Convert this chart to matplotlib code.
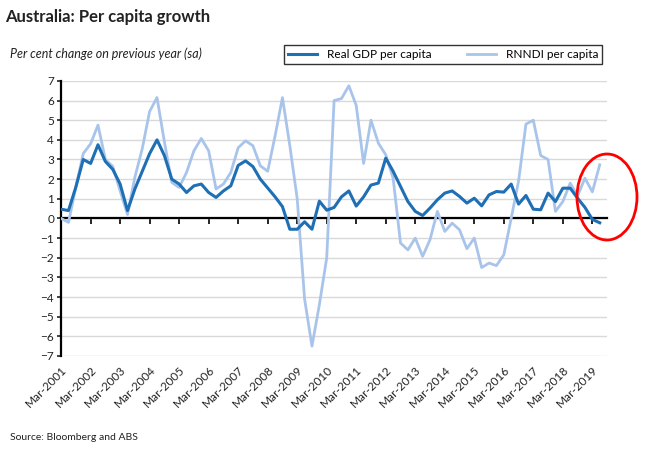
import matplotlib.pyplot as plt
from matplotlib.patches import Ellipse

# quarterly, Mar-2001 .. Jun-2019
gdp_pc = [0.47, 0.4, 1.6, 3.0, 2.8, 3.75, 2.9, 2.5, 1.75, 0.4,
          1.5, 2.4, 3.3, 4.0, 3.2, 2.0, 1.75, 1.32, 1.66, 1.75,
          1.32, 1.07, 1.4, 1.66, 2.7, 2.93, 2.64, 2.0, 1.55, 1.1,
          0.6, -0.55, -0.55, -0.17, -0.55, 0.88, 0.42, 0.56, 1.1, 1.4,
          0.63, 1.1, 1.7, 1.8, 3.07, 2.4, 1.63, 0.86, 0.36, 0.15,
          0.53, 0.95, 1.29, 1.4, 1.12, 0.78, 1.03, 0.64, 1.2, 1.37,
          1.34, 1.75, 0.73, 1.17, 0.47, 0.44, 1.29, 0.86, 1.54, 1.54,
          1.03, 0.56, -0.05, -0.22]
rnndi_pc = [0.0, -0.2, 1.6, 3.3, 3.8, 4.75, 3.0, 2.65, 1.4, 0.2,
            2.1, 3.55, 5.45, 6.15, 3.9, 1.83, 1.58, 2.34, 3.44, 4.07,
            3.44, 1.5, 1.75, 2.34, 3.6, 3.95, 3.7, 2.68, 2.4, 4.2,
            6.15, 3.7, 1.0, -4.1, -6.5, -4.4, -2.0, 6.0, 6.1, 6.75,
            5.75, 2.8, 5.0, 3.83, 3.24, 2.05, -1.25, -1.6, -1.0, -1.93,
            -1.08, 0.36, -0.66, -0.24, -0.58, -1.54, -1.0, -2.5, -2.27, -2.4,
            -1.85, 0.0, 1.9, 4.8, 5.0, 3.2, 3.0, 0.36, 0.86, 1.8,
            1.15, 2.05, 1.35, 2.73]
years = list(range(2001, 2020))
tick_labels = ['Mar-%d' % y for y in years]

plt.rcParams['font.family'] = ['Lato', 'DejaVu Sans']

fig = plt.figure(figsize=(6.5, 4.55), dpi=100)
ax = fig.add_axes([0.094, 0.2176, 0.84, 0.6046])

x = list(range(len(gdp_pc)))
ax.plot(x, rnndi_pc, color='#a9c4eb', lw=2.0, label='RNNDI per capita', zorder=3)
ax.plot(x, gdp_pc, color='#1f6fb5', lw=2.2, label='Real GDP per capita', zorder=4)

ax.set_xlim(0, 74)
ax.set_ylim(-7, 7)
ax.set_yticks(range(-7, 8))
ax.tick_params(axis='y', labelsize=8.5, length=3, width=1.2, pad=2, colors='#222222')
ax.grid(axis='y', color='#d9d9d9', lw=1)
ax.set_axisbelow(True)

for s in ['top', 'right']:
    ax.spines[s].set_visible(False)
ax.spines['left'].set_linewidth(1.6)
ax.spines['bottom'].set_position(('data', 0))
ax.spines['bottom'].set_linewidth(1.6)
ax.set_xticks(range(0, 74, 4))
ax.tick_params(axis='x', length=4, width=1.2, direction='out', labelbottom=False)

sec = ax.secondary_xaxis(0.0)
sec.set_xticks(range(0, 74, 4))
sec.set_xticklabels(tick_labels, rotation=45, ha='right', rotation_mode='anchor')
sec.tick_params(length=0, labelsize=8.5, pad=6, colors='#222222')
sec.spines['bottom'].set_visible(False)

handles, labels = ax.get_legend_handles_labels()
leg = fig.legend(handles[::-1], labels[::-1], loc='center', ncol=2,
                 bbox_to_anchor=(443 / 650, 1 - 54.5 / 455), fontsize=8.5,
                 frameon=True, fancybox=False, edgecolor='black',
                 handlelength=2.5, columnspacing=3.0, borderpad=0.35)
leg.get_frame().set_linewidth(1.0)

fig.text(5 / 650, 1 - 17 / 455, 'Australia: Per capita growth', fontsize=12,
         fontweight='bold', va='center', color='#222222')
fig.text(10 / 650, 1 - 54 / 455, 'Per cent change on previous year (sa)',
         fontsize=9, style='italic', va='center', color='#222222')
fig.text(10 / 650, 1 - 437 / 455, 'Source: Bloomberg and ABS', fontsize=7.5,
         va='center', color='#222222')

ell = Ellipse((607 / 650, 1 - 197 / 455), 60 / 650, 86 / 455,
              transform=fig.transFigure, fill=False, edgecolor='red', lw=2)
fig.patches.append(ell)

fig.savefig('out.png', dpi=100)
